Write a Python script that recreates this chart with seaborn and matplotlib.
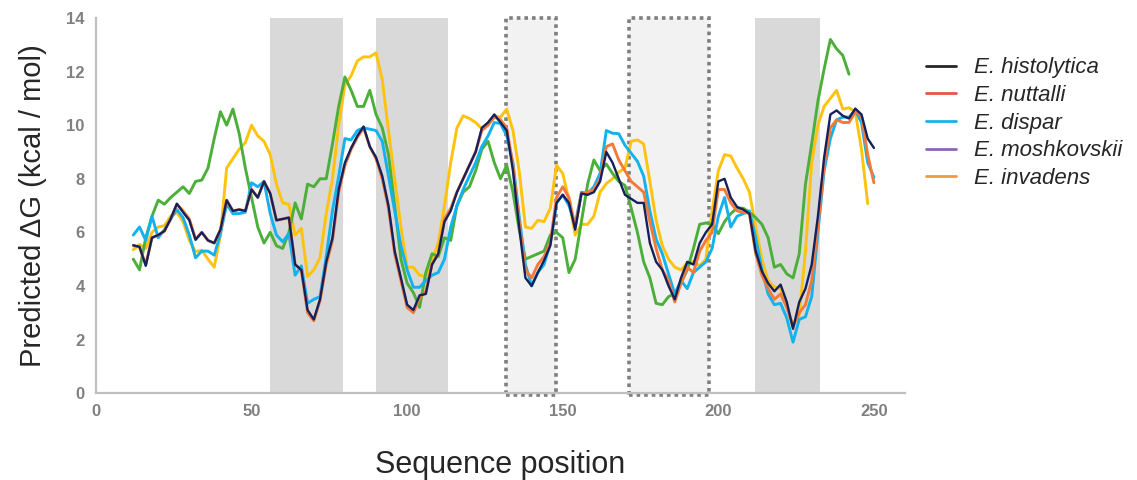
import numpy as np
import pandas as pd
import seaborn as sns
import matplotlib.pyplot as plt
from matplotlib.lines import Line2D
from matplotlib.patches import Rectangle

# sequence positions (every 2 residues)
pos = list(range(12, 251, 2))

histolytica = [5.52, 5.46, 4.75, 5.8, 5.9, 6.05, 6.5, 7.07, 6.75, 6.45,
               5.72, 6.0, 5.7, 5.6, 6.1, 7.2, 6.8, 6.85, 6.8, 7.6,
               7.3, 7.9, 7.45, 6.45, 6.5, 6.55, 4.8, 4.6, 3.1, 2.75,
               3.5, 4.9, 5.8, 7.6, 8.6, 9.15, 9.6, 9.95, 9.2, 8.8,
               8.1, 7.0, 5.3, 4.3, 3.3, 3.1, 3.65, 3.7, 4.8, 5.2,
               6.4, 6.8, 7.5, 8.0, 8.5, 9.0, 9.9, 10.1, 10.4, 10.1,
               9.8, 8.3, 6.2, 4.3, 4.0, 4.5, 4.95, 5.5, 7.1, 7.4,
               7.1, 6.1, 7.45, 7.4, 7.5, 7.9, 9.0, 8.6, 8.0, 7.4,
               7.25, 7.1, 7.1, 5.6, 4.9, 4.6, 4.0, 3.5, 4.3, 4.9,
               4.8, 5.6, 6.0, 6.3, 7.9, 8.0, 7.3, 6.95, 6.85, 6.7,
               5.3, 4.55, 4.1, 3.8, 4.05, 3.4, 2.4, 3.4, 3.9, 4.8,
               6.6, 8.8, 10.4, 10.55, 10.35, 10.25, 10.62, 10.4, 9.5, 9.15]

nuttalli = [5.5, 5.45, 4.8, 5.8, 5.9, 6.05, 6.5, 7.05, 6.8, 6.5,
            5.75, 6.0, 5.7, 5.6, 6.1, 7.2, 6.8, 6.85, 6.8, 7.6,
            7.3, 7.9, 7.45, 6.45, 6.5, 6.55, 4.8, 4.6, 3.0, 2.7,
            3.45, 4.8, 5.7, 7.5, 8.5, 9.1, 9.55, 9.9, 9.2, 8.75,
            8.0, 6.9, 5.2, 4.2, 3.2, 3.0, 3.55, 3.8, 4.8, 5.2,
            6.5, 6.9, 7.5, 8.0, 8.5, 9.0, 9.8, 10.0, 10.3, 10.2,
            9.9, 8.5, 6.4, 4.6, 4.3, 4.8, 5.1, 5.6, 7.3, 7.7,
            7.3, 6.2, 7.45, 7.5, 7.6, 8.0, 9.2, 9.3, 8.7, 8.3,
            7.9, 7.7, 7.5, 6.4, 5.4, 4.6, 4.2, 3.4, 4.1, 4.7,
            4.5, 5.3, 5.7, 6.0, 7.6, 7.6, 7.1, 6.8, 6.75, 6.7,
            5.2, 4.4, 3.9, 3.5, 3.7, 3.2, 2.5, 3.0, 3.3, 4.2,
            6.2, 8.5, 9.9, 10.2, 10.1, 10.1, 10.5, 10.35, 8.9, 7.85]

dispar = [5.9, 6.2, 5.7, 6.6, 5.8, 6.1, 6.5, 6.85, 6.55, 5.9,
          5.05, 5.3, 5.3, 5.15, 5.95, 7.05, 6.7, 6.7, 6.75, 7.85,
          7.7, 7.9, 6.7, 5.9, 5.65, 5.95, 4.4, 4.75, 3.35, 3.5,
          3.6, 5.1, 6.8, 8.1, 9.5, 9.45, 9.8, 9.9, 9.85, 9.8,
          9.4, 8.1, 6.8, 5.5, 4.6, 3.95, 3.95, 4.2, 4.4, 4.5,
          5.0, 6.2, 7.0, 7.6, 8.1, 8.6, 9.2, 9.6, 10.1, 10.06,
          9.6, 8.6, 6.6, 4.8, 4.0, 4.5, 4.8, 5.6, 7.1, 7.4,
          7.0, 6.3, 7.5, 7.45, 7.7, 8.2, 9.8, 9.7, 9.68, 9.25,
          8.95, 8.65, 8.1, 6.8, 5.75, 5.2, 4.45, 3.7, 4.2, 3.9,
          4.5, 4.7, 4.9, 5.4, 6.6, 7.3, 6.2, 6.6, 6.7, 6.8,
          5.8, 4.6, 3.7, 3.3, 3.35, 2.8, 1.9, 2.75, 2.85, 3.6,
          6.0, 8.3, 9.5, 10.2, 10.3, 10.3, 10.55, 10.1, 8.6, 8.05]

moshkovskii = [5.0, 4.6, 5.8, 6.6, 7.2, 7.05, 7.3, 7.5, 7.7, 7.45,
               7.9, 7.95, 8.4, 9.5, 10.5, 10.0, 10.6, 9.7, 8.4, 7.3,
               6.2, 5.6, 6.0, 5.5, 5.4, 6.0, 7.1, 6.5, 7.8, 7.7,
               8.0, 8.0, 9.3, 10.7, 11.8, 11.3, 10.7, 10.7, 11.3, 10.4,
               9.9, 8.9, 7.0, 5.0, 4.1, 3.75, 3.2, 4.5, 5.2, 5.1,
               5.8, 5.7, 7.0, 7.5, 7.7, 8.3, 9.1, 9.4, 8.6, 8.0,
               8.5, 7.5, 6.1, 5.0, 5.1, 5.2, 5.3, 5.9, 6.0, 5.8,
               4.5, 5.0, 6.4, 7.8, 8.7, 8.3, 8.55, 8.2, 7.9, 7.75,
               6.9, 6.0, 4.9, 4.3, 3.35, 3.3, 3.6, 3.72, 4.1, 4.6,
               5.4, 6.3, 6.35, 6.3, 5.95, 6.4, 6.7, 6.9, 6.9, 6.75,
               6.55, 6.3, 5.8, 4.7, 4.8, 4.45, 4.3, 5.2, 7.8, 9.3,
               10.9, 12.1, 13.2, 12.85, 12.6, 11.9]

invadens = [5.35, 5.55, 5.4, 6.0, 6.2, 6.25, 6.6, 6.75, 6.4, 5.7,
            5.28, 5.33, 5.0, 4.7, 5.9, 8.4, 8.75, 9.1, 9.35, 10.0,
            9.6, 9.4, 8.9, 7.8, 7.1, 7.05, 5.9, 6.15, 4.35, 4.6,
            5.05, 6.7, 8.0, 10.0, 11.5, 11.85, 12.4, 12.55, 12.55, 12.7,
            11.7, 9.8, 8.0, 6.2, 4.7, 4.7, 4.4, 4.35, 4.95, 5.6,
            7.0, 8.6, 9.9, 10.35, 10.25, 10.1, 9.87, 10.1, 10.35, 10.3,
            10.6, 9.8, 8.3, 6.2, 6.15, 6.45, 6.4, 6.9, 8.5, 8.2,
            7.2, 5.9, 6.3, 6.3, 6.6, 7.5, 7.82, 8.0, 8.25, 8.4,
            9.4, 9.45, 9.3, 7.9, 6.45, 5.5, 5.0, 4.7, 4.6, 4.85,
            4.9, 4.75, 5.0, 6.8, 8.3, 8.9, 8.85, 8.4, 8.0, 7.5,
            6.2, 5.0, 4.2, 3.97, 3.9, 3.2, 2.5, 2.9, 5.3, 8.6,
            10.0, 10.7, 11.0, 11.3, 10.6, 10.65, 10.5, 9.1, 7.07]

species = ['E. histolytica', 'E. nuttalli', 'E. dispar', 'E. moshkovskii', 'E. invadens']
series = [histolytica, nuttalli, dispar, moshkovskii, invadens]

# colours used for the drawn lines, and (mismatching) ones shown in the legend
line_colors = ['#15215c', '#f47a3a', '#12b2ef', '#4caf3a', '#ffc20e']
legend_colors = ['#262626', '#e8534b', '#1ab2ea', '#8e63b5', '#f8983c']

frames = []
for name, vals in zip(species, series):
    frames.append(pd.DataFrame({'pos': pos[:len(vals)], 'dG': vals, 'species': name}))
df = pd.concat(frames, ignore_index=True)

sns.set_style('white')
plt.rcParams['font.family'] = ['Liberation Sans', 'DejaVu Sans']

fig = plt.figure(figsize=(11.37, 4.8), dpi=100)
ax = fig.add_axes([0.0844, 0.181, 0.7116, 0.7815])

# shaded regions
for x0, x1 in [(56, 79.5), (90, 113), (211.9, 232.8)]:
    ax.axvspan(x0, x1, color='#d9d9d9', lw=0, zorder=0)
for x0, x1 in [(131.7, 147.8), (171.3, 197.1)]:
    ax.add_patch(Rectangle((x0, -0.08), x1 - x0, 14.08, facecolor='#f2f2f2',
                           edgecolor='#7f7f7f', lw=2.6, linestyle=(0, (1, 1.1)),
                           clip_on=False, zorder=0.5))

draw_order = ['E. invadens', 'E. moshkovskii', 'E. dispar', 'E. nuttalli', 'E. histolytica']
pal = dict(zip(species, line_colors))
sns.lineplot(data=df, x='pos', y='dG', hue='species', hue_order=draw_order,
             palette=pal, estimator=None, sort=False, lw=2.1, legend=False, ax=ax)
for ln in ax.lines:
    if ln.get_color() == '#15215c':
        ln.set_linewidth(1.7)

ax.set_xlim(0, 260)
ax.set_ylim(0, 14)
ax.set_xticks(range(0, 251, 50))
ax.set_yticks(range(0, 15, 2))
sns.despine(ax=ax)
for s in ['left', 'bottom']:
    ax.spines[s].set_color('#bfbfbf')
    ax.spines[s].set_linewidth(1.6)
ax.tick_params(direction='in', length=4, width=1.2, color='#bfbfbf',
               labelcolor='#808080', labelsize=12, pad=8)
for lab in ax.get_xticklabels() + ax.get_yticklabels():
    lab.set_fontweight('bold')

ax.set_xlabel('Sequence position', fontsize=22, labelpad=22)
ax.set_ylabel('Predicted ΔG (kcal / mol)', fontsize=21, labelpad=14)

handles = [Line2D([], [], color=c, lw=2) for c in legend_colors]
fig.legend(handles, species, loc='upper left', bbox_to_anchor=(0.797, 0.922),
           frameon=False, prop={'style': 'italic', 'size': 16},
           handlelength=1.35, handletextpad=0.8, labelspacing=0.3)

plt.savefig('out.png', dpi=100)
